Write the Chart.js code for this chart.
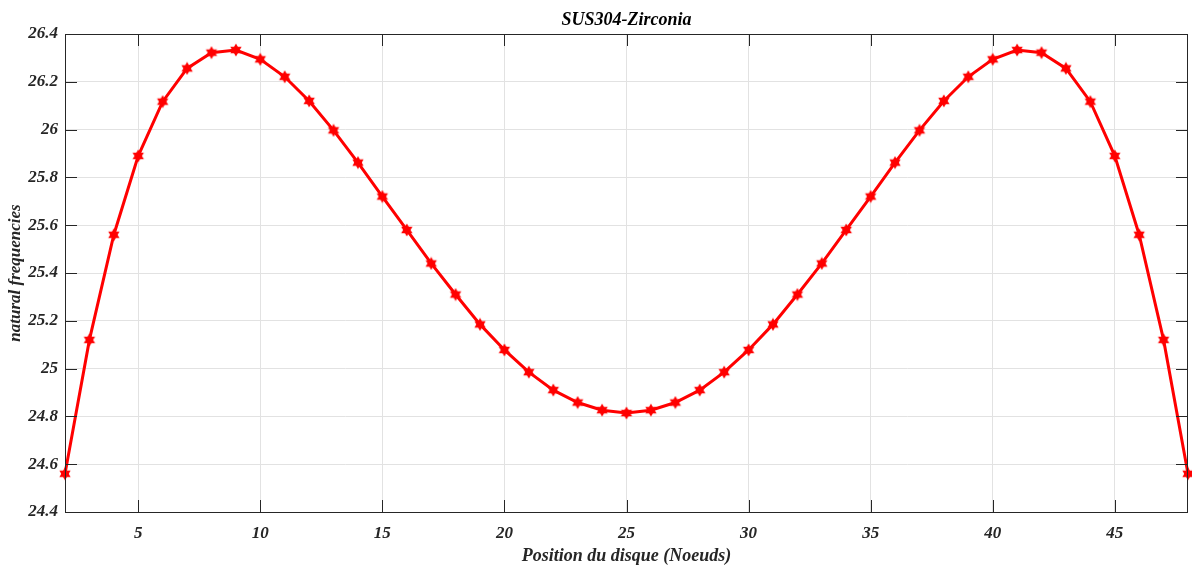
<!DOCTYPE html>
<html>
<head>
<meta charset="utf-8">
<script src="https://cdn.jsdelivr.net/npm/chart.js@4.4.1/dist/chart.umd.min.js"></script>
<style>
html,body{margin:0;padding:0;background:#fff;}
#wrap{width:1192px;height:567px;position:relative;}
</style>
</head>
<body>
<div id="wrap"><canvas id="c" width="1192" height="567"></canvas></div>
<script>
const positions = [2,3,4,5,6,7,8,9,10,11,12,13,14,15,16,17,18,19,20,21,22,23,24,25,26,27,28,29,30,31,32,33,34,35,36,37,38,39,40,41,42,43,44,45,46,47,48];
const frequencies = [24.56,25.12,25.56,25.89,26.117,26.256,26.322,26.333,26.294,26.221,26.12,25.997,25.862,25.72,25.58,25.44,25.31,25.185,25.078,24.985,24.91,24.858,24.826,24.814,24.826,24.858,24.91,24.985,25.078,25.185,25.31,25.44,25.58,25.72,25.862,25.997,26.12,26.221,26.294,26.333,26.322,26.256,26.117,25.89,25.56,25.12,24.56];
const xTicks = [5,10,15,20,25,30,35,40,45];
const yTicks = [24.4,24.6,24.8,25,25.2,25.4,25.6,25.8,26,26.2,26.4];
const titleText = 'SUS304-Zirconia';
const xTitle = 'Position du disque (Noeuds)';
const yTitle = 'natural frequencies';

function hexagram(size, color){
  const cv = document.createElement('canvas');
  cv.width = size; cv.height = size;
  const g = cv.getContext('2d');
  const c = size/2, r = size/2 - 0.5;
  g.fillStyle = color;
  for (const off of [-Math.PI/2, Math.PI/2]) {
    g.beginPath();
    for (let i=0;i<3;i++){
      const a = off + i*2*Math.PI/3;
      const px = c + r*Math.cos(a), py = c + r*Math.sin(a);
      if(i===0) g.moveTo(px,py); else g.lineTo(px,py);
    }
    g.closePath(); g.fill();
  }
  return cv;
}
const marker = hexagram(14, '#ff0000');

const FONT = "'Liberation Serif', 'Times New Roman', serif";

const boxPlugin = {
  id:'box',
  afterDraw(chart){
    const {ctx, chartArea:a, scales} = chart;
    ctx.save();
    ctx.strokeStyle = '#262626';
    ctx.lineWidth = 1;
    const tl = 12;
    ctx.beginPath();
    xTicks.forEach(v=>{
      const px = Math.round(scales.x.getPixelForValue(v))+0.5;
      ctx.moveTo(px, a.bottom); ctx.lineTo(px, a.bottom - tl);
      ctx.moveTo(px, a.top); ctx.lineTo(px, a.top + tl);
    });
    yTicks.forEach(v=>{
      const py = Math.round(scales.y.getPixelForValue(v))+0.5;
      ctx.moveTo(a.left, py); ctx.lineTo(a.left + tl, py);
      ctx.moveTo(a.right, py); ctx.lineTo(a.right - tl, py);
    });
    ctx.stroke();
    ctx.strokeRect(Math.round(a.left)+0.5, Math.round(a.top)+0.5, Math.round(a.right-a.left)-1, Math.round(a.bottom-a.top));
    // title centred over the plot area
    ctx.fillStyle = '#000';
    ctx.font = "italic bold 18px " + FONT;
    ctx.textAlign = 'center';
    ctx.textBaseline = 'middle';
    ctx.fillText(titleText, (a.left + a.right)/2, 20);
    ctx.restore();
  }
};

new Chart(document.getElementById('c'), {
  type:'line',
  data:{
    datasets:[{
      data: positions.map((x,i)=>({x:x, y:frequencies[i]})),
      borderColor:'#ff0000',
      borderWidth:3,
      pointStyle: marker,
      pointRadius:7,
      pointHoverRadius:7,
      tension:0,
      clip:false
    }]
  },
  options:{
    responsive:false,
    animation:false,
    events:[],
    layout:{autoPadding:false,padding:{left:0,right:4,top:34,bottom:0}},
    plugins:{
      legend:{display:false},
      tooltip:{enabled:false},
      title:{display:false}
    },
    scales:{
      x:{
        type:'linear', min:2, max:48,
        afterBuildTicks(s){ s.ticks = xTicks.map(v=>({value:v})); },
        afterFit(s){ s.height = 55; s.paddingLeft = 0; s.paddingRight = 0; },
        grid:{color:'#e2e2e2',drawTicks:false,lineWidth:1},
        border:{display:false},
        ticks:{color:'#262626',padding:11,maxRotation:0,autoSkip:false,font:{family:FONT,size:17,weight:'bold',style:'italic'}},
        title:{display:true,text:xTitle,color:'#262626',padding:{top:0,bottom:0},font:{family:FONT,size:18,weight:'bold',style:'italic',lineHeight:1.2}}
      },
      y:{
        min:24.4, max:26.4,
        afterBuildTicks(s){ s.ticks = yTicks.map(v=>({value:v})); },
        afterFit(s){ s.width = 65; s.paddingTop = 0; s.paddingBottom = 0; },
        grid:{color:'#e2e2e2',drawTicks:false,lineWidth:1},
        border:{display:false},
        ticks:{color:'#262626',padding:7,autoSkip:false,font:{family:FONT,size:17,weight:'bold',style:'italic'},
          callback:(v)=>String(Number(v.toFixed(1)))},
        title:{display:true,text:yTitle,color:'#262626',padding:{top:5,bottom:0},font:{family:FONT,size:17,weight:'bold',style:'italic',lineHeight:1.2}}
      }
    }
  },
  plugins:[boxPlugin]
});
</script>
</body>
</html>
